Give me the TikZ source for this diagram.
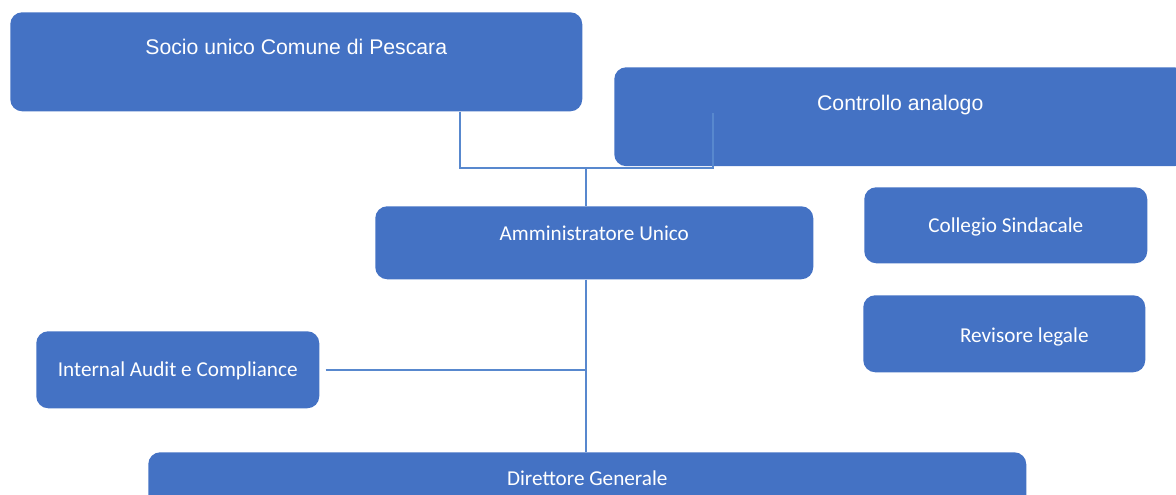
\documentclass[tikz,border=0pt]{standalone}
\usepackage{fontspec}
\setmainfont{Carlito}
\newfontfamily\arialfont{Liberation Sans}
\usepackage{tikz}
\definecolor{orgblue}{RGB}{68,114,196}
\definecolor{orgline}{RGB}{88,136,206}

\begin{document}
\begin{tikzpicture}[
    x=0.75pt, y=-0.75pt,
    unit/.style={fill=orgblue, draw=none, rounded corners=9pt, text=white, anchor=north west, inner xsep=0pt, inner ysep=0pt, font=\fontsize{15.9}{19}\selectfont, align=center},
    topunit/.style={unit, font=\arialfont\fontsize{15.9}{19}\selectfont},
    link/.style={draw=orgline, line width=1.5pt}
]
\useasboundingbox (0,0) rectangle (1176,495);
\clip (0,0) rectangle (1176,495);

\node[topunit, minimum width=429pt, text height=31.9pt, text depth=42.4pt] (socio) at (10,12) {Socio unico Comune di Pescara};
\node[topunit, minimum width=429pt, text height=32.6pt, text depth=41.6pt] (ctrl) at (614,67) {Controllo analogo};
\node[unit, minimum width=328.5pt, text height=25.5pt, text depth=29.25pt] (amm) at (375,206) {Amministratore Unico};
\node[unit, minimum width=212.25pt, text height=33.75pt, text depth=23.25pt] (sindaci) at (864,187) {Collegio Sindacale};
\node[unit, minimum width=211.5pt, text height=35.25pt, text depth=22.5pt] (revisore) at (863,295) {\hspace*{30pt}Revisore legale};
\node[unit, minimum width=212.25pt, text height=33.75pt, text depth=24pt] (audit) at (36,331) {Internal Audit e Compliance};
\node[unit, minimum width=658.5pt, text height=24.75pt, text depth=30pt] (dg) at (148,452) {Direttore Generale};

% collegamenti
\coordinate (join) at (586,168);
\coordinate (ctrlin) at (713,113);
\draw[link] (socio.south -| 460,0) |- (join) -| (ctrlin);
\draw[link] (join) -- (amm.north -| join);
\draw[link] (amm.south -| join) -- (dg.north -| join);
\draw[link] ([xshift=4.5pt]audit.east) -- (audit.east -| join);
\end{tikzpicture}
\end{document}
